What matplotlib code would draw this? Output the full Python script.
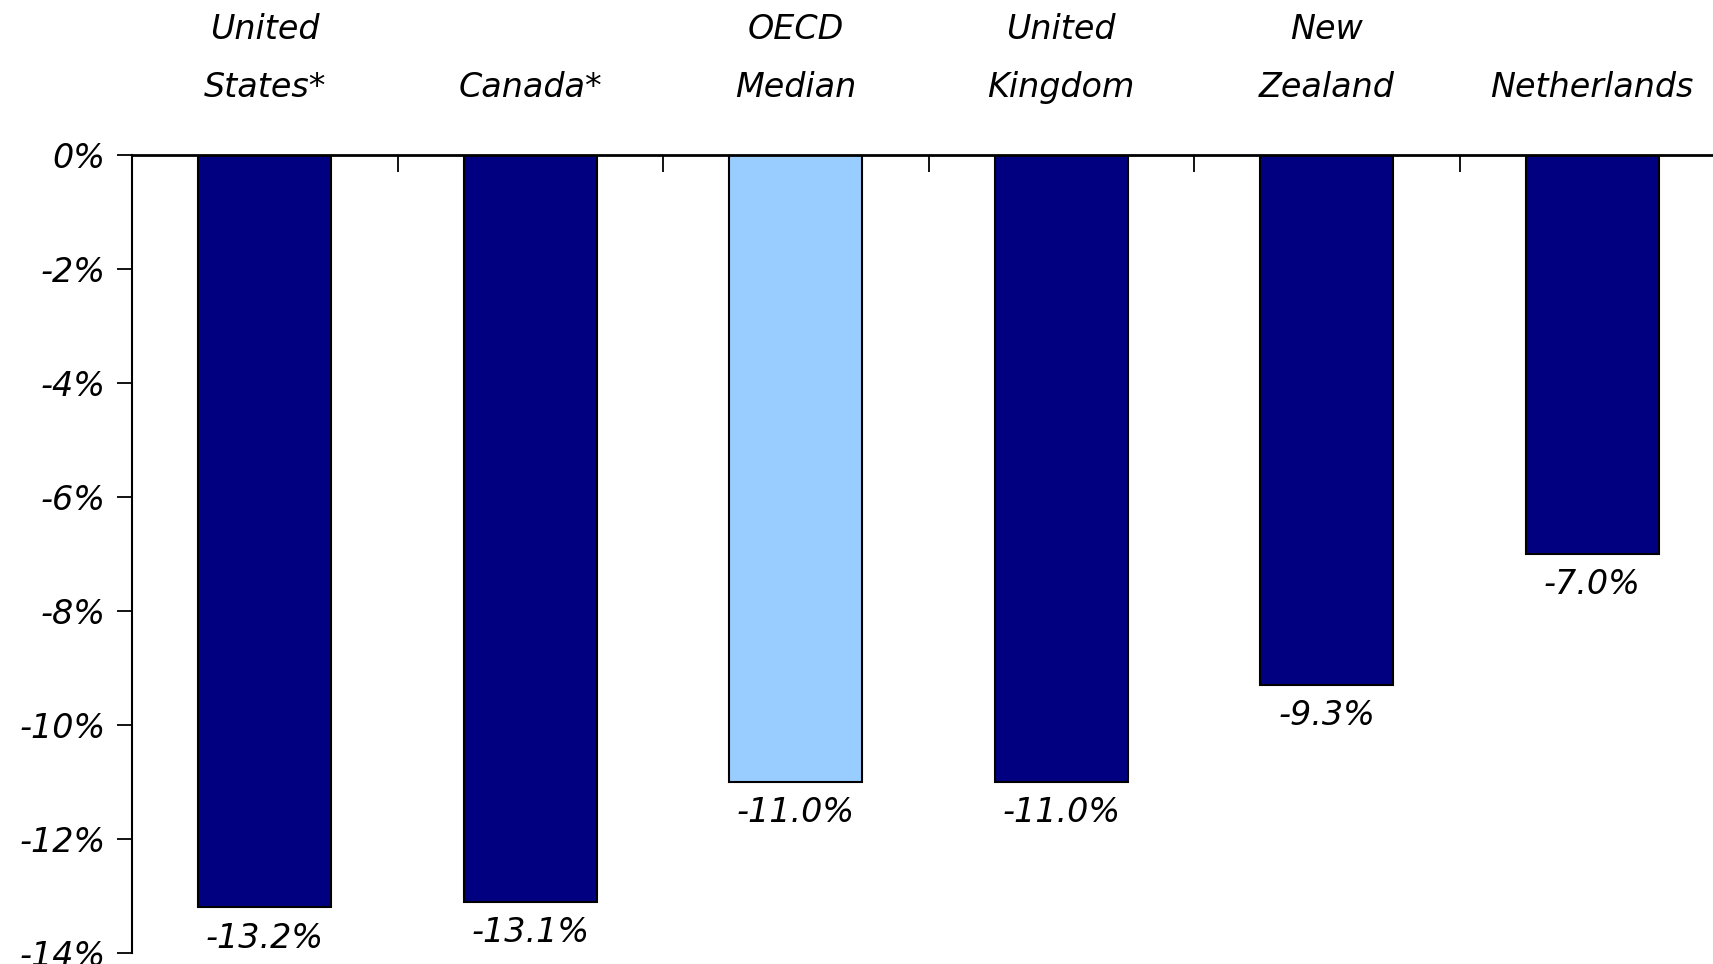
import matplotlib.pyplot as plt
import numpy as np

countries = ["United\nStates*", "Canada*", "OECD\nMedian", "United\nKingdom", "New\nZealand", "Netherlands"]
values = [-13.2, -13.1, -11.0, -11.0, -9.3, -7.0]
colors = ["#000080", "#000080", "#99CCFF", "#000080", "#000080", "#000080"]
yticks = [0, -2, -4, -6, -8, -10, -12, -14]

plt.rcParams["font.family"] = "DejaVu Sans"
plt.rcParams["font.style"] = "italic"
fs = 24

fig = plt.figure(figsize=(17.13, 9.64), dpi=100)
# axes runs a bit past the right edge like the original
ax = fig.add_axes([132 / 1713, 11 / 964, 1593 / 1713, (953 - 155) / 964])

x = np.arange(len(countries))
ax.bar(x, values, width=0.5, color=colors, edgecolor="black", linewidth=1.5, zorder=2)

for xi, v in zip(x, values):
    ax.text(xi, v - 0.25, f"{v:.1f}%", ha="center", va="top", fontsize=fs, style="italic")

ax.set_xlim(-0.5, len(countries) - 0.5)
ax.set_ylim(-14, 0)

# category labels on top
ax.xaxis.tick_top()
ax.set_xticks(x)
ax.set_xticklabels(countries, fontsize=fs, style="italic", linespacing=1.95)
ax.tick_params(axis="x", which="major", length=0, pad=37)
ax.set_xticks(np.arange(len(countries)) + 0.5, minor=True)
ax.tick_params(axis="x", which="minor", top=True, direction="in", length=12, width=1.3)

ax.set_yticks(yticks)
ax.set_yticklabels([f"{t}%" for t in yticks], fontsize=fs, style="italic")
ax.tick_params(axis="y", length=11, width=1.3, pad=8)

for s in ["right", "bottom"]:
    ax.spines[s].set_visible(False)
ax.spines["left"].set_linewidth(1.5)
ax.spines["top"].set_linewidth(2)
ax.spines["top"].set_zorder(3)

fig.savefig("out.png", dpi=100)
